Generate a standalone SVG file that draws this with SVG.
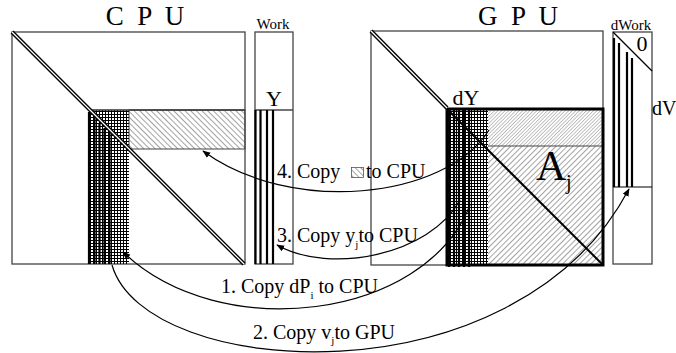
<svg xmlns="http://www.w3.org/2000/svg" width="676" height="353" viewBox="0 0 676 353">
<defs>
<style>
text{font-family:"Liberation Serif","Times New Roman",serif;fill:#000}
.box{fill:none;stroke:#444;stroke-width:1.3}
.thick{stroke:#000;stroke-width:2.2}
.conn{fill:none;stroke:#000;stroke-width:1.2}
.lbl{font-size:20px}
.sub{font-size:11px}
</style>
<pattern id="hBack" width="4" height="4" patternUnits="userSpaceOnUse" patternTransform="rotate(-45)">
<line x1="0" y1="0" x2="0" y2="4" stroke="#333" stroke-width="0.9"/>
</pattern>
<pattern id="hFwd" width="4" height="4" patternUnits="userSpaceOnUse" patternTransform="rotate(45)">
<line x1="0" y1="0" x2="0" y2="4" stroke="#333" stroke-width="0.9"/>
</pattern>
<pattern id="hFine" width="2.5" height="2.5" patternUnits="userSpaceOnUse" patternTransform="rotate(45)">
<line x1="0" y1="0" x2="0" y2="2.5" stroke="#666" stroke-width="0.8"/>
</pattern>
<pattern id="grid" width="3" height="3" patternUnits="userSpaceOnUse">
<path d="M0,0.5H3M0.5,0V3" stroke="#000" stroke-width="1" fill="none" shape-rendering="crispEdges"/>
</pattern>
<marker id="ah" viewBox="0 0 10 10" refX="9" refY="5" markerWidth="8" markerHeight="8" markerUnits="userSpaceOnUse" orient="auto">
<path d="M0,1 L10,5 L0,9 Z" fill="#000"/>
</marker>
</defs>
<rect width="676" height="353" fill="#fff"/>

<g id="cpu">
<text x="145" y="25" font-size="27" text-anchor="middle" xml:space="preserve">C  P  U</text>
<rect class="box" x="12" y="32" width="233" height="232"/>
<rect x="129" y="110" width="116" height="39" fill="url(#hBack)" stroke="#444" stroke-width="1"/>
<rect x="89" y="110" width="40" height="154" fill="url(#grid)"/>
<line x1="89" y1="110" x2="245" y2="110" stroke="#333" stroke-width="1.3"/>
<g class="thick">
<line x1="89" y1="112" x2="89" y2="264"/>
<line x1="94.5" y1="118" x2="94.5" y2="264"/>
<line x1="99.5" y1="123" x2="99.5" y2="264"/>
<line x1="104.5" y1="128" x2="104.5" y2="264"/>
<line x1="109.5" y1="133" x2="109.5" y2="264"/>
</g>
<line x1="12" y1="32" x2="244" y2="264" stroke="#000" stroke-width="4"/>
<line x1="12" y1="32" x2="244" y2="264" stroke="#fff" stroke-width="1.3"/>
</g>

<g id="work">
<text x="273" y="29" font-size="15" text-anchor="middle">Work</text>
<rect class="box" x="255" y="32" width="38" height="232"/>
<line x1="255" y1="110" x2="293" y2="110" stroke="#444" stroke-width="1.3"/>
<text x="274" y="106" font-size="22" text-anchor="middle">Y</text>
<g class="thick">
<line x1="255.5" y1="110" x2="255.5" y2="264"/>
<line x1="260.5" y1="110" x2="260.5" y2="264"/>
<line x1="267" y1="110" x2="267" y2="264"/>
<line x1="273" y1="110" x2="273" y2="264"/>
</g>
</g>

<g id="gpu">
<text x="518" y="25" font-size="27" text-anchor="middle" xml:space="preserve">G  P  U</text>
<rect class="box" x="371" y="31" width="232" height="234"/>
<rect x="488" y="109" width="115" height="37" fill="url(#hFine)"/>
<rect x="488" y="146" width="115" height="119" fill="url(#hFwd)"/>
<line x1="488" y1="146" x2="603" y2="146" stroke="#444" stroke-width="1"/>
<rect x="447" y="109" width="41" height="156" fill="url(#grid)"/>
<g class="thick">
<line x1="449" y1="109" x2="449" y2="267"/>
<line x1="454" y1="109" x2="454" y2="267"/>
<line x1="459" y1="109" x2="459" y2="267"/>
<line x1="464" y1="109" x2="464" y2="267"/>
<line x1="469" y1="109" x2="469" y2="267"/>
</g>
<rect x="447" y="109" width="156" height="156" fill="none" stroke="#000" stroke-width="3"/>
<line x1="371" y1="31" x2="447" y2="108" stroke="#000" stroke-width="4"/>
<line x1="371" y1="31" x2="447" y2="108" stroke="#fff" stroke-width="1.3"/>
<line x1="447" y1="109" x2="603" y2="265" stroke="#000" stroke-width="2"/>
<text x="466" y="105" font-size="22" text-anchor="middle">dY</text>
<text x="536" y="180" font-size="42">A</text>
<text x="566" y="189" font-size="20">j</text>
</g>

<g id="dwork">
<text x="631" y="30" font-size="15" text-anchor="middle">dWork</text>
<rect class="box" x="613" y="32" width="39" height="232"/>
<line x1="613" y1="32" x2="652" y2="71" stroke="#000" stroke-width="1.2"/>
<text x="642" y="51" font-size="22" text-anchor="middle">0</text>
<line x1="613" y1="187" x2="652" y2="187" stroke="#000" stroke-width="1.2"/>
<g class="thick">
<line x1="614" y1="38" x2="614" y2="187"/>
<line x1="619" y1="43" x2="619" y2="187"/>
<line x1="627" y1="52" x2="627" y2="187"/>
<line x1="632" y1="58" x2="632" y2="187"/>
</g>
<text x="652" y="115" font-size="20">dV</text>
</g>

<g id="connectors">
<path class="conn" d="M489,130 C445,200 290,215 203,151" marker-end="url(#ah)"/>
<path class="conn" d="M460,200 C430,255 330,275 277,245" marker-end="url(#ah)"/>
<path class="conn" d="M470,205 C425,320 220,345 123,252" marker-end="url(#ah)"/>
<path class="conn" d="M112,265 C145,380 515,405 629,189" marker-end="url(#ah)"/>
</g>

<g id="labels">
<text class="lbl" x="277" y="178">4. Copy</text>
<rect x="351.5" y="167.5" width="12" height="10" fill="url(#hBack)" stroke="#555" stroke-width="0.8"/>
<text class="lbl" x="366" y="178">to CPU</text>
<text class="lbl" x="277" y="242">3. Copy y<tspan class="sub" dy="6">j</tspan><tspan dy="-6">to CPU</tspan></text>
<text class="lbl" x="221" y="293">1. Copy dP<tspan class="sub" dy="6">i</tspan><tspan dy="-6"> to CPU</tspan></text>
<text class="lbl" x="253" y="339">2. Copy v<tspan class="sub" dy="5">j</tspan><tspan dy="-5">to GPU</tspan></text>
</g>
</svg>
